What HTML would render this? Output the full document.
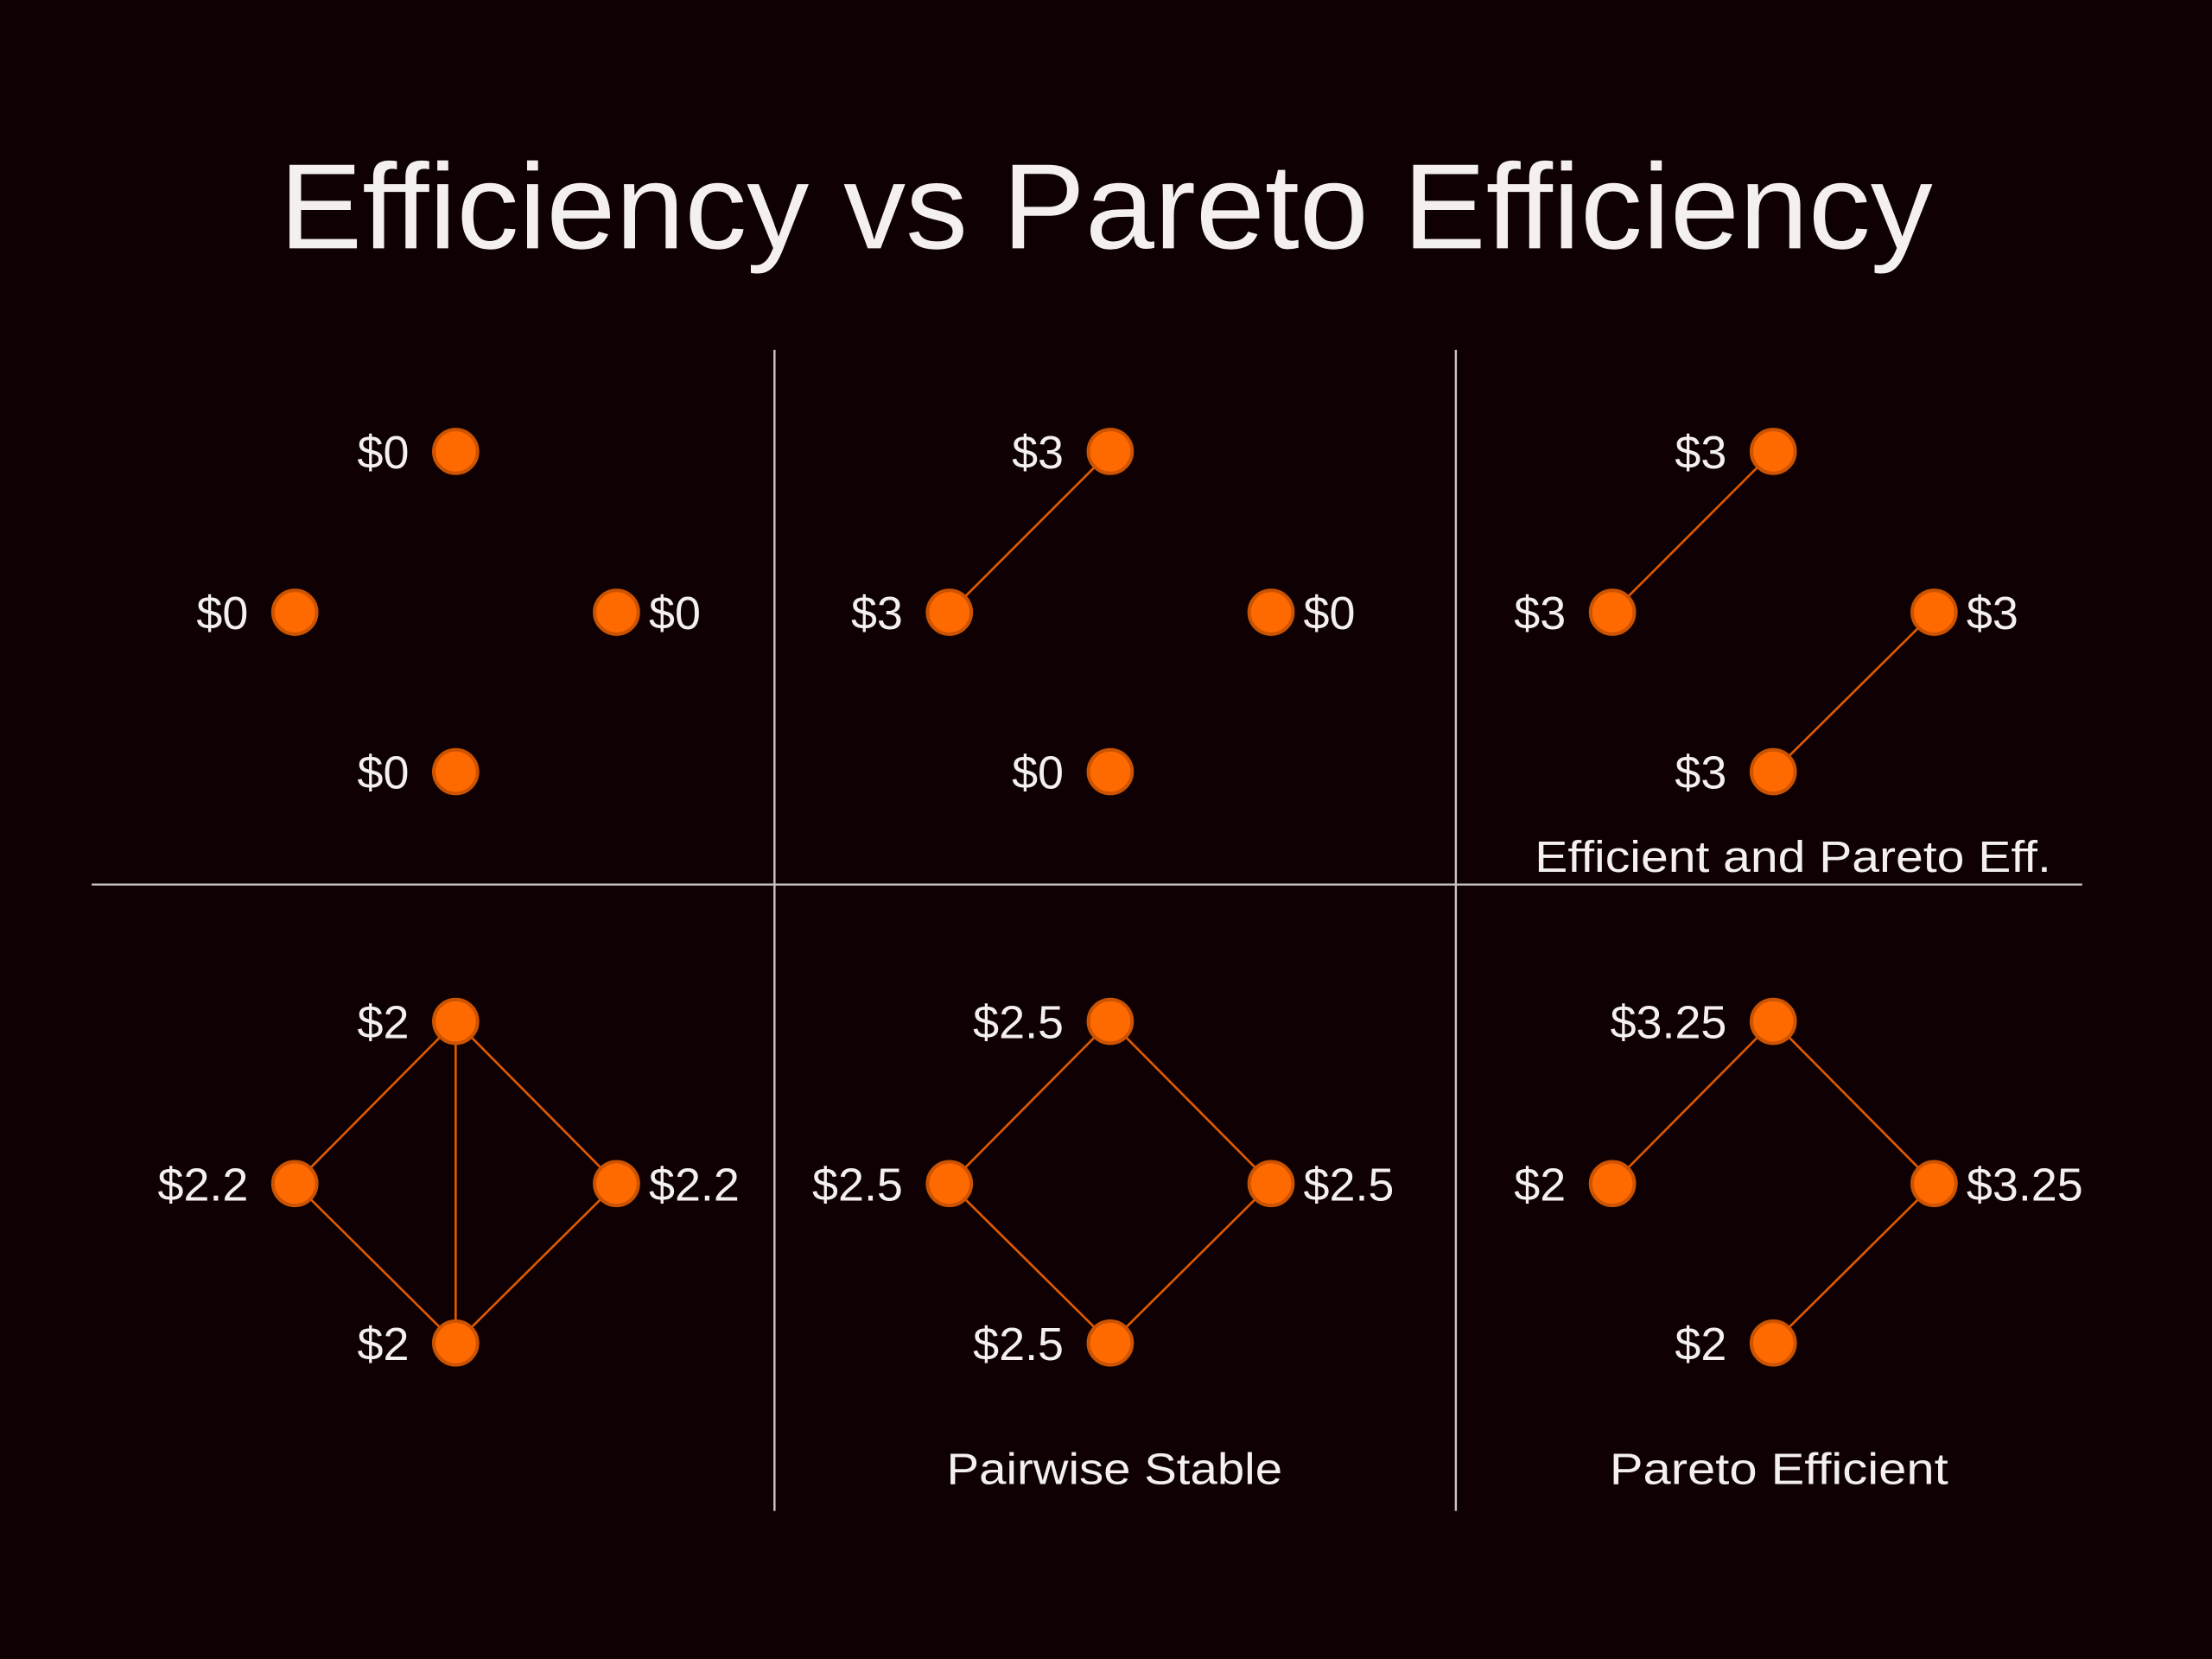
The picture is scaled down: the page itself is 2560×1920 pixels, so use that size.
<!DOCTYPE html>
<html><head><meta charset="utf-8"><style>
html,body{margin:0;padding:0;background:#0f0103;}
svg{display:block;}
text{font-family:"Liberation Sans",sans-serif;fill:#f4f0f0;}
</style></head><body>
<svg id="chart" width="2560" height="1920" viewBox="0 0 1568 1176" xmlns="http://www.w3.org/2000/svg">
<rect x="0" y="0" width="1568" height="1176" fill="#0f0103"/>
<text x="784" y="176" font-size="86" text-anchor="middle" textLength="1172" lengthAdjust="spacingAndGlyphs">Efficiency vs Pareto Efficiency</text>
<line x1="549" y1="248" x2="549" y2="1071" stroke="#c8c4c4" stroke-width="1.5"/>
<line x1="1032" y1="248" x2="1032" y2="1071" stroke="#c8c4c4" stroke-width="1.5"/>
<line x1="65" y1="627" x2="1476" y2="627" stroke="#c8c4c4" stroke-width="1.5"/>
<g id="panels"></g>
<text x="1271" y="618" font-size="31" text-anchor="middle" textLength="366" lengthAdjust="spacingAndGlyphs">Efficient and Pareto Eff.</text>
<text x="790" y="1052" font-size="31" text-anchor="middle" textLength="238" lengthAdjust="spacingAndGlyphs">Pairwise Stable</text>
<text x="1261" y="1052" font-size="31" text-anchor="middle" textLength="240" lengthAdjust="spacingAndGlyphs">Pareto Efficient</text>
</svg>
<script>
// node order: top, left, right, bottom
const panelValues = [
  ["$0","$0","$0","$0"],
  ["$3","$3","$0","$0"],
  ["$3","$3","$3","$3"],
  ["$2","$2.2","$2.2","$2"],
  ["$2.5","$2.5","$2.5","$2.5"],
  ["$3.25","$2","$3.25","$2"]
];
const panelEdges = [
  [],
  [[0,1]],
  [[0,1],[2,3]],
  [[0,1],[0,2],[0,3],[1,3],[2,3]],
  [[0,1],[0,2],[1,3],[2,3]],
  [[0,1],[0,2],[2,3]]
];
const colX = [323, 787, 1257];
const rowTop = [[320,434,547],[724,839,952]];
const ns = "http://www.w3.org/2000/svg";
const root = document.getElementById("panels");
function mk(tag, attrs){const e=document.createElementNS(ns,tag);for(const k in attrs)e.setAttribute(k,attrs[k]);return e;}
panelValues.forEach((vals, p) => {
  const cx = colX[p % 3];
  const ys = rowTop[Math.floor(p / 3)];
  const pos = [[cx, ys[0]], [cx - 114, ys[1]], [cx + 114, ys[1]], [cx, ys[2]]];
  const g = mk("g", {});
  
  
  panelEdges[p].forEach(([a, b]) => {
    const l = mk("line", {x1:pos[a][0], y1:pos[a][1], x2:pos[b][0], y2:pos[b][1], stroke:"#e05a00", "stroke-width":1.6});
    
    
    g.appendChild(l);
  });
  vals.forEach((v, i) => {
    const c = mk("circle", {cx:pos[i][0], cy:pos[i][1], r:15.5, fill:"#ff6a00", stroke:"#cc5300", "stroke-width":2.5});
    
    
    g.appendChild(c);
    const right = i === 2;
    const t = mk("text", {x: right ? pos[i][0] + 23 : pos[i][0] - 33, y: pos[i][1] + 12, "font-size": 33, "text-anchor": right ? "start" : "end"});
    
    
    t.textContent = v;
    g.appendChild(t);
  });
  root.appendChild(g);
});
</script>
</body></html>
